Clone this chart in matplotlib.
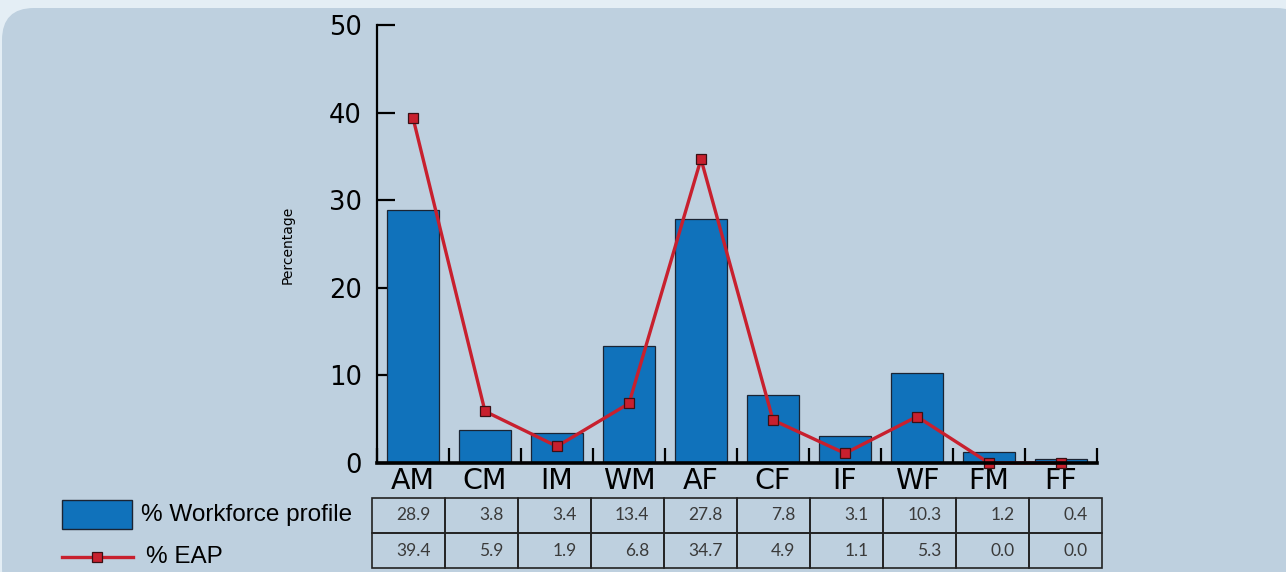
import numpy as np
import matplotlib
matplotlib.use("Agg")
import matplotlib.pyplot as plt
from matplotlib.patches import FancyBboxPatch, Rectangle

# workforce profile vs economically active population, by group
groups = ["AM", "CM", "IM", "WM", "AF", "CF", "IF", "WF", "FM", "FF"]
workforce = [28.9, 3.8, 3.4, 13.4, 27.8, 7.8, 3.1, 10.3, 1.2, 0.4]
eap = [39.4, 5.9, 1.9, 6.8, 34.7, 4.9, 1.1, 5.3, 0.0, 0.0]
series_names = ["% Workforce profile", "% EAP"]
yticks = [0, 10, 20, 30, 40, 50]

BLUE = "#1072bb"
RED = "#c8202e"
EDGE = "#1b2433"
PANEL = "#bed0df"
OUTER = "#e4eef5"

W, H = 1286, 572
fig = plt.figure(figsize=(W / 100, H / 100), dpi=100)
fig.patch.set_facecolor(OUTER)

# pixel-space canvas for the rounded panel and the legend
bg = fig.add_axes([0, 0, 1, 1])
bg.set_xlim(0, W); bg.set_ylim(H, 0); bg.axis("off")
bg.add_patch(FancyBboxPatch((2, 8), W + 20, H + 20,
                            boxstyle="round,pad=0,rounding_size=32",
                            fc=PANEL, ec="none"))

# ---------- chart ----------
x = np.arange(len(groups))
ax = fig.add_axes([377 / W, 1 - 463 / H, 720 / W, 438 / H])
ax.set_facecolor("none")
ax.bar(x, workforce, width=0.72, color=BLUE, edgecolor=EDGE, lw=0.9, zorder=2)
ax.plot(x, eap, color=RED, lw=2.4, marker="s", ms=7.5, mfc=RED, mec="#3a1015",
        mew=0.9, zorder=3, clip_on=False)
ax.set_xlim(-0.5, len(groups) - 0.5)
ax.set_ylim(0, 50)

for s in ("top", "right"):
    ax.spines[s].set_visible(False)
ax.spines["left"].set_linewidth(1.6)
ax.spines["bottom"].set_linewidth(2.6)
ax.spines["bottom"].set_zorder(4)

ax.set_yticks(yticks)
ax.tick_params(axis="y", direction="in", length=13, width=1.6, pad=11,
               labelsize=18.5)
ax.set_xticks(np.arange(len(groups) + 1) - 0.5)
ax.set_xticklabels([])
ax.set_xticks(x, minor=True)
ax.set_xticklabels(groups, minor=True)
ax.tick_params(axis="x", which="major", direction="in", length=11, width=1.6)
ax.tick_params(axis="x", which="minor", length=0, pad=3, labelsize=20.5)

ax.set_ylabel("Percentage", fontsize=10)
ax.yaxis.set_label_coords(-(377 - 295) / 720, (463 - 245) / 438)

# ---------- data table ----------
tax = fig.add_axes([372 / W, 1 - 568 / H, 730 / W, 70 / H])
tax.axis("off")
cells = [[f"{v:.1f}" for v in workforce], [f"{v:.1f}" for v in eap]]
tbl = tax.table(cellText=cells, cellLoc="right", bbox=[0, 0, 1, 1])
tbl.auto_set_font_size(False)
for cell in tbl.get_celld().values():
    cell.set_facecolor("none")
    cell.set_edgecolor("#222222")
    cell.set_linewidth(1.2)
    cell.PAD = 0.2
    cell.get_text().set_fontsize(12.5)
    cell.get_text().set_color("#3a3a3a")
    cell.get_text().set_family("Lato")

# ---------- legend ----------
bg.add_patch(Rectangle((62, 500), 70, 29, fc=BLUE, ec=EDGE, lw=1.0))
bg.text(141, 515, series_names[0], va="center", ha="left", fontsize=17.5,
        family="Liberation Sans")
bg.plot([62, 133], [557, 557], color=RED, lw=2.4)
bg.plot([97], [557], "s", ms=7.5, mfc=RED, mec="#3a1015", mew=0.9)
bg.text(146, 557, series_names[1], va="center", ha="left", fontsize=17.5,
        family="Liberation Sans")

fig.savefig("out.png", dpi=100, facecolor=fig.get_facecolor())
